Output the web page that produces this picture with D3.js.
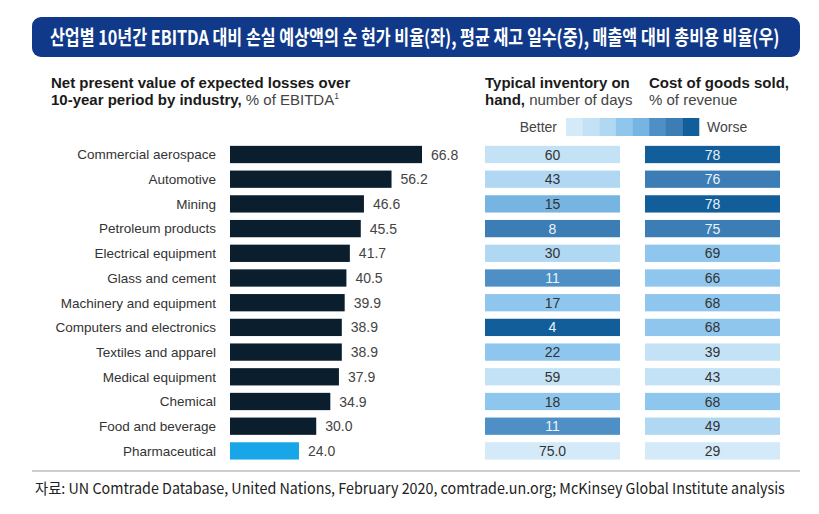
<!DOCTYPE html>
<html><head><meta charset="utf-8">
<script src="https://cdn.jsdelivr.net/npm/d3@7"></script>
<style>
html,body{margin:0;padding:0;background:#fff;}
svg{display:block;}
</style></head>
<body>
<svg id="chart" width="819" height="514"></svg>
<script>
const categories = ["Commercial aerospace","Automotive","Mining","Petroleum products","Electrical equipment","Glass and cement","Machinery and equipment","Computers and electronics","Textiles and apparel","Medical equipment","Chemical","Food and beverage","Pharmaceutical"];
const lossValues = [66.8,56.2,46.6,45.5,41.7,40.5,39.9,38.9,38.9,37.9,34.9,30.0,24.0];
const inventoryDays = [60,43,15,8,30,11,17,4,22,59,18,11,75.0];
const inventoryLabels = ["60","43","15","8","30","11","17","4","22","59","18","11","75.0"];
const cogsValues = [78,76,78,75,69,66,68,68,39,43,68,49,29];
const highlight = "Pharmaceutical";

const title = "산업별 10년간 EBITDA 대비 손실 예상액의 순 현가 비율(좌), 평균 재고 일수(중), 매출액 대비 총비용 비율(우)";
const source = "자료: UN Comtrade Database, United Nations, February 2020, comtrade.un.org; McKinsey Global Institute analysis";

const palette = ["#d4eaf8","#c4e2f6","#b1d8f3","#8fc6ed","#76b4e2","#4e8fc6","#3c7db6","#125e9a"];

const svg = d3.select("#chart");
const SANS = "'Liberation Sans', Arial, sans-serif";
const KR = "'Noto Sans CJK KR', sans-serif";

// fit a text into a given width by horizontal scaling (condensed look)
function condensed(str, left, baseline, width, size, weight, fill){
  const t = svg.append("text").attr("x",0).attr("y",0)
    .attr("font-family",KR).attr("font-weight",weight).attr("font-size",size).attr("fill",fill)
    .text(str);
  const len = t.node().getComputedTextLength();
  const s = width/len;
  t.attr("transform",`translate(${left},${baseline}) scale(${s},1)`);
  return t;
}

// Title banner
svg.append("rect").attr("x",32).attr("y",17).attr("width",768).attr("height",40)
  .attr("rx",9).attr("fill","#10398a");
condensed(title, 50, 44.5, 730, 20, 700, "#fff");

// Headers
function header(x, y, bold, normal){
  const t = svg.append("text").attr("x",x).attr("y",y)
    .attr("font-family",SANS).attr("font-size",15).attr("fill","#1a1a1a");
  if(bold) t.append("tspan").attr("font-weight",700).text(bold);
  if(normal) t.append("tspan").attr("fill","#444").text(normal);
  return t;
}
header(51, 88, "Net present value of expected losses over", null);
const h2 = header(51, 104.5, "10-year period by industry,", " % of EBITDA");
h2.append("tspan").attr("font-size",8.5).attr("dy",-6).attr("fill","#444").text("1");
header(485, 88, "Typical inventory on", null);
header(485, 104.5, "hand,", " number of days");
header(649, 88, "Cost of goods sold,", null);
header(649, 104.5, null, "% of revenue");

// Legend
const legendX = d3.scaleBand().domain(d3.range(palette.length)).range([566, 699]);
svg.append("g").selectAll("rect").data(palette).join("rect")
  .attr("x",(d,i)=>legendX(i)).attr("y",118).attr("width",legendX.bandwidth()+0.3).attr("height",18)
  .attr("fill",d=>d);
svg.append("text").attr("x",557).attr("y",132).attr("text-anchor","end")
  .attr("font-family",SANS).attr("font-size",14).attr("fill","#444").text("Better");
svg.append("text").attr("x",707).attr("y",132)
  .attr("font-family",SANS).attr("font-size",14).attr("fill","#444").text("Worse");

// Scales
const y = d3.scaleBand().domain(categories).range([142.15, 463.25]).paddingInner(0.3).paddingOuter(0.15);
const x = d3.scaleLinear().domain([0,70]).range([230, 431.2]);

const invColor = d3.scaleThreshold().domain([6,10,13,16,25,50,70])
  .range([palette[7],palette[6],palette[5],palette[4],palette[3],palette[2],palette[1],palette[0]]);
const cogsColor = d3.scaleThreshold().domain([35,45,60,72,77])
  .range([palette[0],palette[1],palette[2],palette[3],palette[6],palette[7]]);
const darkSet = new Set([palette[5],palette[6],palette[7]]);

const rows = categories.map((c,i)=>({cat:c, loss:lossValues[i], inv:inventoryDays[i], invLabel:inventoryLabels[i], cogs:cogsValues[i]}));

// Category labels
svg.append("g").selectAll("text").data(rows).join("text")
  .attr("x",216).attr("y",d=>y(d.cat)+y.bandwidth()/2).attr("dy","0.36em")
  .attr("text-anchor","end").attr("font-family",SANS).attr("font-size",13.5)
  .attr("fill","#333").text(d=>d.cat);

// Bars
svg.append("g").selectAll("rect").data(rows).join("rect")
  .attr("x",x(0)).attr("y",d=>y(d.cat)).attr("width",d=>x(d.loss)-x(0)).attr("height",y.bandwidth())
  .attr("fill",d=>d.cat===highlight?"#19a6e8":"#0b1e2d");
svg.append("g").selectAll("text").data(rows).join("text")
  .attr("x",d=>x(d.loss)+9).attr("y",d=>y(d.cat)+y.bandwidth()/2).attr("dy","0.36em")
  .attr("font-family",SANS).attr("font-size",14).attr("fill","#444")
  .text(d=>d.loss.toFixed(1));

// Inventory and COGS cells
const invX = d3.scaleLinear().domain([0,1]).range([485, 620]);
const cogsX = d3.scaleLinear().domain([0,1]).range([645, 780]);
function cells(xs, colorFn, valFn, labelFn){
  const g = svg.append("g");
  g.selectAll("rect").data(rows).join("rect")
    .attr("x",xs(0)).attr("y",d=>y(d.cat)).attr("width",xs(1)-xs(0)).attr("height",y.bandwidth())
    .attr("fill",d=>colorFn(valFn(d)));
  g.selectAll("text").data(rows).join("text")
    .attr("x",(xs(0)+xs(1))/2).attr("y",d=>y(d.cat)+y.bandwidth()/2).attr("dy","0.36em")
    .attr("text-anchor","middle").attr("font-family",SANS).attr("font-size",14)
    .attr("fill",d=>darkSet.has(colorFn(valFn(d)))?"#eaf3fb":"#333")
    .text(labelFn);
}
cells(invX, invColor, d=>d.inv, d=>d.invLabel);
cells(cogsX, cogsColor, d=>d.cogs, d=>String(d.cogs));

// Separator & source
svg.append("line").attr("x1",32).attr("x2",800).attr("y1",471).attr("y2",471)
  .attr("stroke","#bdbdbd").attr("stroke-width",1.5);
condensed(source, 35, 494, 750, 15, 400, "#222");
</script>
</body></html>
